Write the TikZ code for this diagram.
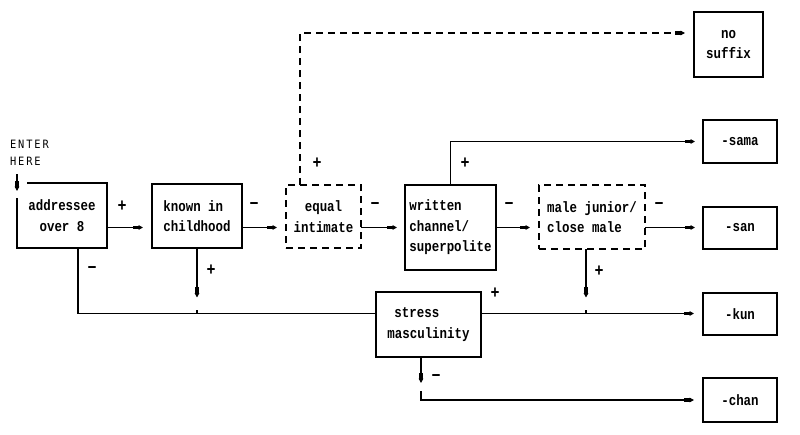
\documentclass[tikz,border=0pt]{standalone}
\usepackage{fontspec}
\newfontfamily\dfont{Liberation Mono}[FakeStretch=0.83]
\newfontfamily\efont{DejaVu Sans Mono}[FakeStretch=0.9]
\usetikzlibrary{arrows.meta,calc}
\begin{document}
\begin{tikzpicture}[x=1pt,y=-1pt,
 every node/.style={inner sep=0pt, outer sep=0pt},
 txt/.style={font=\dfont\bfseries\fontsize{15}{20.5}\selectfont},
 box/.style={txt, draw, line width=1.3pt, align=center},
 lbox/.style={box, align=left},
 dbox/.style={box, dash pattern=on 7pt off 5pt, line width=1.2pt},
 endbox/.style={box, minimum width=74pt},
 sign/.style={font=\dfont\bfseries\fontsize{18}{18}\selectfont},
 conn/.style={line width=1.1pt},
 arr/.style={conn, -{Rectangle[length=6pt,width=3.6pt,sep=0pt]Triangle[length=4.5pt,width=4.6pt]}},
 darr/.style={arr, dash pattern=on 7pt off 5pt}
]
\fill[white] (0,0) rectangle (800,434);
\useasboundingbox (0,0) rectangle (800,434);

% boxes
\node[box, draw=none, minimum width=90pt, minimum height=65pt] (addr) at (62,215.5) {addressee\\over 8};
\node[lbox, minimum width=90pt, minimum height=64pt] (known) at (197,216) {known in\\childhood};
\node[dbox, minimum width=75pt, minimum height=63pt] (equal) at (323.5,216.5) {equal\\intimate};
\node[lbox, minimum width=91pt, minimum height=85pt] (written) at (450.5,227.5) {written\\channel/\\superpolite};
\node[dbox, align=left, minimum width=106pt, minimum height=64pt] (male) at (592,217) {male junior/\\close male};
\node[lbox, minimum width=105pt, minimum height=65pt] (stress) at (428.5,324.5) {\hspace*{7pt}stress\\masculinity};

\node[box, minimum width=69pt, minimum height=65pt] (nosuf) at (728.5,44.5) {no\\suffix};
\node[endbox, minimum height=43pt] (sama) at (740,141.5) {-sama};
\node[endbox, minimum height=42pt] (san) at (740,228) {-san};
\node[endbox, minimum height=42pt] (kun) at (740,314) {-kun};
\node[endbox, minimum height=44pt] (chan) at (740,400) {-chan};

% addressee outline with entry gap
\draw[line width=1.3pt] ($(addr.north west)+(10,0)$) -- (addr.north east) -- (addr.south east) -- (addr.south west) -- ($(addr.north west)+(0,15)$);

% entry
\node[font=\efont\fontsize{11.5}{17}\selectfont, align=left, anchor=north west] (enter) at (10,140) {E\,N\,T\,E\,R\\H\,E\,R\,E};
\coordinate (entry) at (17,174);
\draw[arr] (entry) -- ($(addr.north west)+(0,8)$);

% helper rows
\coordinate (row) at (0,227.5);
\coordinate (top) at (0,33);
\coordinate (kr) at (0,313.5);

% main row
\draw[arr, shorten >=9pt] (addr.east |- row) -- (known.west |- row);
\draw[arr, shorten >=9pt] (known.east |- row) -- (equal.west |- row);
\draw[arr, shorten >=8pt] (equal.east |- row) -- (written.west |- row);
\draw[arr, shorten >=9pt] (written.east |- row) -- (male.west |- row);
\draw[arr, shorten >=8pt] (male.east |- row) -- (san.west |- row);

% upper branches
\coordinate (e1) at ($(equal.north west)+(14,0)$);
\draw[darr, shorten >=9pt] (e1) |- (nosuf.west |- top);
\draw[arr, shorten >=8pt] (written.north) |- (sama.west);

% downward branches
\coordinate (k1) at (known.south);
\draw[arr, shorten >=16pt] (k1) -- (k1 |- kr);
\draw[conn] (k1 |- kr) -- ++(0,-4);
\coordinate (m1) at ($(male.south)+(-6,0)$);
\draw[arr, shorten >=16pt] (m1) -- (m1 |- kr);
\draw[conn] (m1 |- kr) -- ++(0,-4);
\coordinate (a1) at ($(addr.south west)+(61,0)$);
\draw[conn] (a1) |- (stress.west |- kr);
\draw[arr, shorten >=9pt] (stress.east |- kr) -- (kun.west |- kr);

\coordinate (s1) at ($(stress.south)+(-7.5,0)$);
\coordinate (s2) at ($(s1)+(0,34)$);
\draw[arr] (s1) -- ($(s1)+(0,26)$);
\draw[arr, shorten >=9pt] (s2) |- (chan.west);

% signs
\node[sign] (p1) at (122,206) {+};
\node[sign] (p2) at (254,206) {−};
\node[sign] (p3) at (375,206) {−};
\node[sign] (p4) at (509,206) {−};
\node[sign] (p5) at (659,206) {−};
\node[sign] (p6) at (317,163) {+};
\node[sign] (p7) at (465,163) {+};
\node[sign] (p8) at (92,270) {−};
\node[sign] (p9) at (211,270) {+};
\node[sign] (p10) at (599,271) {+};
\node[sign] (p11) at (495,293) {+};
\node[sign] (p12) at (436,378) {−};
\end{tikzpicture}
\end{document}
